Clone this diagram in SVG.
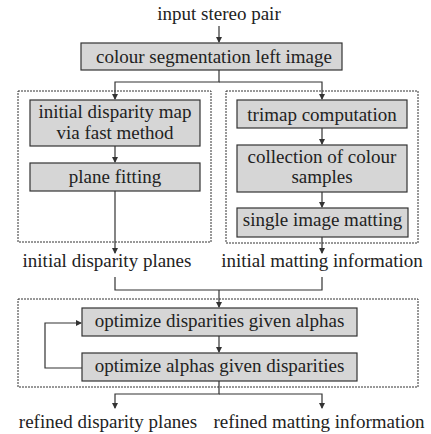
<svg xmlns="http://www.w3.org/2000/svg" width="431" height="434" viewBox="0 0 431 434">
<style>
text{font-family:'Liberation Serif','DejaVu Serif',serif;font-size:19px;fill:#222;text-anchor:middle}
.box{fill:#d6d6d6;stroke:#333;stroke-width:1.2}
.grp{fill:none;stroke:#333;stroke-width:1;stroke-dasharray:2 1}
.ln{fill:none;stroke:#333;stroke-width:1.2}
</style>
<defs>
<marker id="ah" markerWidth="6" markerHeight="6" refX="5" refY="3" orient="auto" markerUnits="userSpaceOnUse">
<path d="M0,0 L6,3 L0,6 z" fill="#333"/>
</marker>
</defs>
<rect width="431" height="434" fill="#fff"/>
<g id="groups">
<rect class="grp" x="18" y="91" width="193" height="151"/>
<rect class="grp" x="226" y="91" width="192" height="152"/>
<rect class="grp" x="18" y="299" width="400" height="88"/>
</g>
<g id="connectors">
<line class="ln" x1="219" y1="26" x2="219" y2="42" marker-end="url(#ah)"/>
<polyline class="ln" points="219,70 219,82 115,82 115,99" marker-end="url(#ah)"/>
<polyline class="ln" points="219,82 322,82 322,99" marker-end="url(#ah)"/>
<line class="ln" x1="115" y1="146" x2="115" y2="162" marker-end="url(#ah)"/>
<line class="ln" x1="115" y1="191" x2="115" y2="253" marker-end="url(#ah)"/>
<line class="ln" x1="322" y1="128" x2="322" y2="144" marker-end="url(#ah)"/>
<line class="ln" x1="322" y1="192" x2="322" y2="207" marker-end="url(#ah)"/>
<line class="ln" x1="322" y1="237" x2="322" y2="253" marker-end="url(#ah)"/>
<polyline class="ln" points="115,277 115,290 322,290 322,277"/>
<line class="ln" x1="219" y1="290" x2="219" y2="307" marker-end="url(#ah)"/>
<line class="ln" x1="219" y1="336" x2="219" y2="352" marker-end="url(#ah)"/>
<polyline class="ln" points="82,368 45,368 45,323 81,323" marker-end="url(#ah)"/>
<polyline class="ln" points="219,381 219,394 115,394 115,408" marker-end="url(#ah)"/>
<polyline class="ln" points="219,394 322,394 322,408" marker-end="url(#ah)"/>
</g>
<g id="input"><text x="219" y="20">input stereo pair</text></g>
<g id="segmentation"><rect class="box" x="81" y="43" width="261" height="27"/><text x="214" y="63">colour segmentation left image</text></g>
<g id="initdisp"><rect class="box" x="30" y="100" width="170" height="46"/><text x="115" y="118">initial disparity map</text><text x="115" y="139">via fast method</text></g>
<g id="planefit"><rect class="box" x="30" y="163" width="170" height="28"/><text x="115" y="183">plane fitting</text></g>
<g id="trimap"><rect class="box" x="237" y="100" width="170" height="28"/><text x="322" y="121">trimap computation</text></g>
<g id="collection"><rect class="box" x="237" y="145" width="170" height="47"/><text x="322" y="163">collection of colour</text><text x="322" y="183">samples</text></g>
<g id="matting"><rect class="box" x="237" y="208" width="171" height="29"/><text x="322.5" y="226">single image matting</text></g>
<g id="initplanes"><text x="107" y="267">initial disparity planes</text></g>
<g id="initmatting"><text x="322" y="267">initial matting information</text></g>
<g id="optdisp"><rect class="box" x="82" y="308" width="275" height="28"/><text x="219.5" y="327">optimize disparities given alphas</text></g>
<g id="optalpha"><rect class="box" x="82" y="353" width="275" height="28"/><text x="219.5" y="372">optimize alphas given disparities</text></g>
<g id="refplanes"><text x="108" y="428">refined disparity planes</text></g>
<g id="refmatting"><text x="319" y="428">refined matting information</text></g>
</svg>
